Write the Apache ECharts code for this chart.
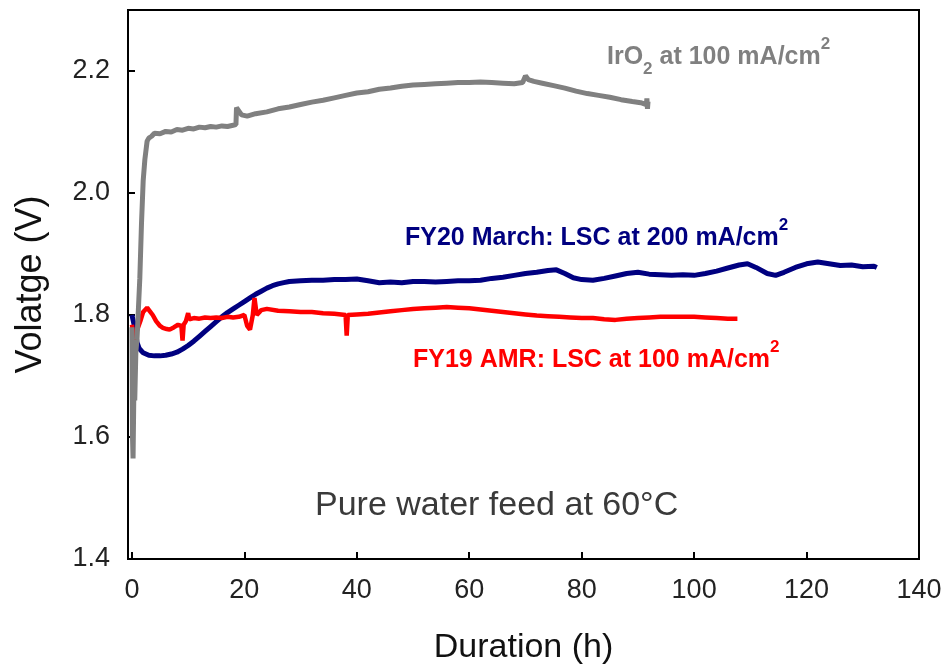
<!DOCTYPE html>
<html>
<head>
<meta charset="utf-8">
<script src="https://cdn.jsdelivr.net/npm/echarts@6/dist/echarts.min.js"></script>
<style>html,body{margin:0;padding:0;background:#fff;}#chart{width:945px;height:670px;}</style>
</head>
<body>
<div id="chart"></div>
<script>
// ---- tick labels ----
const xTicks = [0, 20, 40, 60, 80, 100, 120, 140];
const yTicks = [1.4, 1.6, 1.8, 2.0, 2.2];

// ---- IrO2 at 100 mA/cm2 (gray) ----
const irHours = [0.0,0.1,0.2,0.35,0.5,0.7,0.9,1.1,1.4,1.7,2.0,2.3,2.5,2.7,3.0,3.5,4,5,6,7,8,9,10,11,12,13,14,15,16,17,18,18.5,18.6,18.9,19.5,20.5,22,24,26,28,30,32,34,36,38,40,42,44,46,48,50,52,54,56,58,60,62,64,66,68,69.5,70.0,70.5,71.5,73,75,77,79,81,83,85,87,89,90.5,91.5,91.6,91.7,91.8];
const irVolts = [1.78,1.60,1.565,1.68,1.66,1.74,1.76,1.80,1.86,1.95,2.02,2.055,2.07,2.085,2.09,2.093,2.098,2.097,2.101,2.100,2.104,2.103,2.106,2.105,2.108,2.107,2.109,2.108,2.110,2.109,2.111,2.112,2.14,2.138,2.128,2.126,2.13,2.133,2.138,2.141,2.145,2.149,2.152,2.156,2.160,2.164,2.166,2.170,2.172,2.175,2.177,2.178,2.179,2.180,2.181,2.181,2.182,2.181,2.180,2.179,2.181,2.192,2.186,2.183,2.180,2.176,2.172,2.167,2.163,2.160,2.157,2.153,2.150,2.148,2.145,2.155,2.138,2.150];

// ---- FY20 March: LSC at 200 mA/cm2 (navy) ----
const fy20Hours = [0.0,0.3,0.6,0.9,1.3,2,3,4,5,6,7,8,9,10,11,12,13,14,15,16,17,18,19,20,21,22,23,24,25,26,27,28,30,32,34,36,38,40,42,44,46,48,50,52,54,56,58,60,62,64,66,68,70,72,74,75.5,77,78.5,80,82,84,86,88,90,92,94,96,98,100,102,104,106,108,109.5,111,113,114.5,116,118,120,122,124,126,128,130,132,132.5];
const fy20Volts = [1.800,1.798,1.775,1.755,1.745,1.738,1.734,1.733,1.733,1.734,1.736,1.739,1.744,1.750,1.757,1.765,1.773,1.781,1.789,1.797,1.804,1.810,1.816,1.822,1.828,1.834,1.839,1.844,1.848,1.851,1.853,1.855,1.856,1.857,1.857,1.858,1.858,1.859,1.856,1.853,1.854,1.853,1.855,1.855,1.854,1.855,1.856,1.856,1.857,1.860,1.862,1.865,1.868,1.870,1.873,1.874,1.868,1.861,1.858,1.857,1.860,1.864,1.868,1.870,1.867,1.866,1.865,1.866,1.865,1.868,1.872,1.877,1.882,1.884,1.878,1.868,1.865,1.870,1.878,1.884,1.887,1.884,1.881,1.882,1.879,1.880,1.878];

// ---- FY19 AMR: LSC at 100 mA/cm2 (red) ----
const fy19Hours = [0.0,0.2,0.4,0.6,0.8,1.1,1.5,2.0,2.7,3.2,3.7,4.3,5.0,5.5,6.2,6.7,7.5,8.2,8.8,9.0,9.2,9.6,10.0,10.2,11,12,13,14,15,16,17,18,19,20,20.5,21,21.5,21.8,22.2,23,24,26,28,30,32,34,36,38,38.2,38.4,40,42,44,46,48,50,52,54,56,58,60,62,64,66,68,70,72,74,76,78,80,82,84,86,88,90,92,94,96,98,100,102,104,106,107.7];
const fy19Volts = [1.784,1.770,1.750,1.760,1.772,1.774,1.790,1.805,1.812,1.806,1.800,1.790,1.782,1.779,1.777,1.776,1.780,1.784,1.782,1.758,1.784,1.790,1.803,1.793,1.795,1.794,1.796,1.795,1.796,1.795,1.797,1.796,1.797,1.800,1.782,1.776,1.800,1.828,1.800,1.808,1.810,1.807,1.806,1.805,1.805,1.803,1.802,1.800,1.766,1.800,1.801,1.802,1.804,1.806,1.808,1.810,1.811,1.812,1.813,1.812,1.811,1.809,1.807,1.805,1.803,1.801,1.799,1.798,1.797,1.796,1.795,1.795,1.793,1.792,1.794,1.795,1.796,1.797,1.797,1.797,1.797,1.796,1.795,1.794,1.794];

const zip = (a, b) => a.map((v, i) => [v, b[i]]);
const FONT = '"Liberation Sans", Arial, sans-serif';

function richStyles(color) {
  return {
    a: { fontFamily: FONT, fontSize: 25, fontWeight: 'bold', color: color, lineHeight: 42 },
    sub: { fontFamily: FONT, fontSize: 17, fontWeight: 'bold', color: color, lineHeight: 16, verticalAlign: 'bottom' },
    sup: { fontFamily: FONT, fontSize: 17, fontWeight: 'bold', color: color, lineHeight: 28, verticalAlign: 'top' }
  };
}
function annot(x, y, text, color) {
  return {
    type: 'text', x: x, y: y, silent: true,
    style: { text: text, rich: richStyles(color), fill: color, align: 'left', verticalAlign: 'middle',
             font: 'bold 25px ' + FONT }
  };
}

const chart = echarts.init(document.getElementById('chart'), null, { renderer: 'canvas' });
chart.setOption({
  animation: false,
  backgroundColor: '#ffffff',
  grid: { left: 128, right: 26, top: 10, bottom: 107, show: true, borderColor: '#000', borderWidth: 2, backgroundColor: 'transparent' },
  xAxis: {
    type: 'value', min: -0.7, max: 140,
    name: 'Duration (h)', nameLocation: 'middle', nameGap: 72,
    nameTextStyle: { fontFamily: FONT, fontSize: 34, color: '#111' },
    axisLine: { show: true, onZero: false, lineStyle: { color: '#000', width: 2 } },
    axisTick: { show: true, inside: true, length: 7, customValues: xTicks, lineStyle: { color: '#000', width: 2 } },
    axisLabel: { customValues: xTicks, margin: 18, fontFamily: FONT, fontSize: 27, color: '#222' },
    splitLine: { show: false }
  },
  yAxis: {
    type: 'value', min: 1.4, max: 2.3,
    name: 'Volatge (V)', nameLocation: 'middle', nameGap: 79,
    nameTextStyle: { fontFamily: FONT, fontSize: 36, color: '#111' },
    axisLine: { show: true, onZero: false, lineStyle: { color: '#000', width: 2 } },
    axisTick: { show: true, inside: true, length: 7, customValues: yTicks, lineStyle: { color: '#000', width: 2 } },
    axisLabel: { customValues: yTicks, margin: 18, fontFamily: FONT, fontSize: 27, color: '#222',
                 formatter: v => Number(v).toFixed(1) },
    splitLine: { show: false }
  },
  series: [
    { name: 'FY20 March: LSC at 200 mA/cm2', type: 'line', data: zip(fy20Hours, fy20Volts), showSymbol: false, symbol: 'none',
      lineStyle: { color: '#000080', width: 5 }, z: 2 },
    { name: 'FY19 AMR: LSC at 100 mA/cm2', type: 'line', data: zip(fy19Hours, fy19Volts), showSymbol: false, symbol: 'none',
      lineStyle: { color: '#ff0000', width: 4.5 }, z: 3 },
    { name: 'IrO2 at 100 mA/cm2', type: 'line', data: zip(irHours, irVolts), showSymbol: false, symbol: 'none',
      lineStyle: { color: '#808080', width: 5 }, z: 4 }
  ],
  graphic: [
    annot(607, 57, '{a|IrO}{sub|2}{a| at 100 mA/cm}{sup|2}', '#808080'),
    annot(405, 238, '{a|FY20 March: LSC at 200 mA/cm}{sup|2}', '#000080'),
    annot(413, 360, '{a|FY19 AMR: LSC at 100 mA/cm}{sup|2}', '#ff0000'),
    { type: 'text', x: 315, y: 506, silent: true,
      style: { text: 'Pure water feed at 60°C', fill: '#3a3a3a', align: 'left', verticalAlign: 'middle',
               font: '34px ' + FONT } }
  ]
});
</script>
</body>
</html>
